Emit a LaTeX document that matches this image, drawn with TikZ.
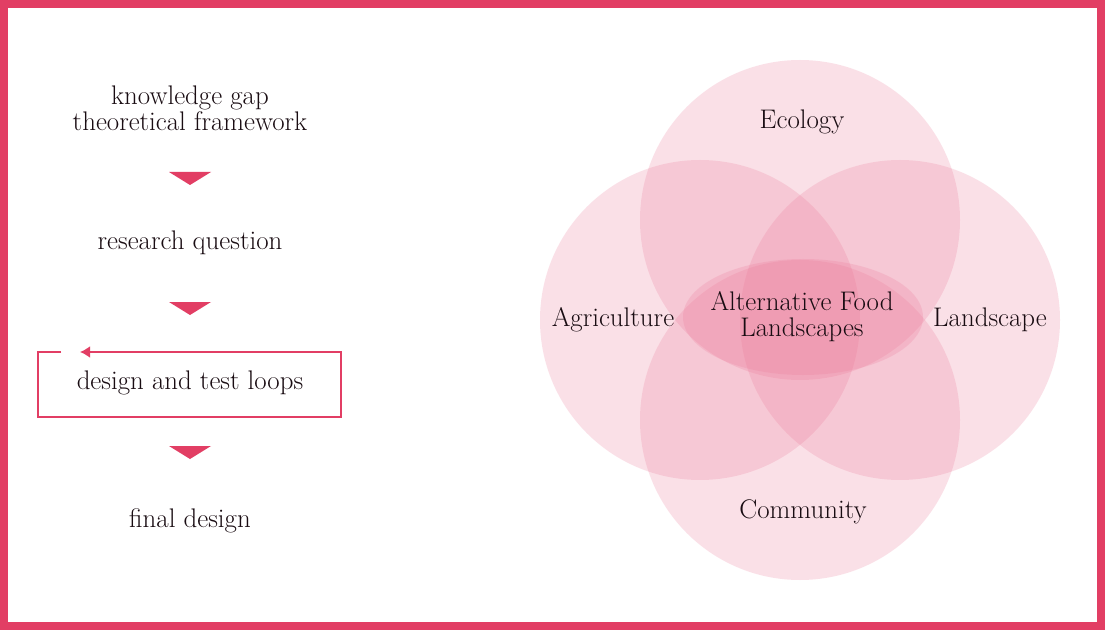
\documentclass[tikz,border=0pt]{standalone}
\usepackage{xcolor}
\usepackage{tikz}
\usetikzlibrary{arrows.meta}
\definecolor{framered}{RGB}{226,62,100}
\definecolor{venpink}{RGB}{236,118,150}
\definecolor{inkdark}{RGB}{25,12,18}

\begin{document}
\begin{tikzpicture}[x=1bp, y=-1bp]
    \tikzstyle{label} = [align=center, text=inkdark, font=\fontsize{27}{26}\selectfont, inner sep=0pt]
    \tikzstyle{petal} = [fill=venpink, fill opacity=0.22, draw=none]
    \tikzstyle{marker} = [fill=framered]

    \useasboundingbox (0,0) rectangle (1105,630);
    \fill[white] (0,0) rectangle (1105,630);
    \draw[framered, line width=8bp] (4,4) rectangle (1101,626);

    % Process steps
    \node [label] (gap) at (190,108) {knowledge gap\\theoretical framework};
    \node [label] (question) at (190,243) {research question};
    \node [label] (loops) at (190,383) {design and test loops};
    \node [label] (final) at (190,521) {final design};

    % Markers between the steps
    \foreach \y in {178,308,452}
        \fill[marker] (169,\y-6) -- (211,\y-6) -- (190,\y+7) -- cycle;

    % Loop round the design step
    \coordinate (loop_start) at (61,352);
    \coordinate (loop_end) at (80,352);
    \draw [framered, line width=2.2bp, -{Latex[length=10bp,width=12bp]}]
        (loop_start) -- (38,352) -- (38,417) -- (341,417) -- (341,352) -- (loop_end);

    % Venn circles
    \fill [petal] (800,220) circle (160);
    \fill [petal] (700,320) circle (160);
    \fill [petal] (900,320) circle (160);
    \fill [petal] (800,420) circle (160);
    \fill [petal] (803,317) ellipse (120 and 58);

    % Venn labels
    \node [label] (ecology) at (802,122) {Ecology};
    \node [label] (agriculture) at (613,320) {Agriculture};
    \node [label] (landscape) at (990,320) {Landscape};
    \node [label] (community) at (803,512) {Community};
    \node [label] (afl) at (802,317) {Alternative Food\\Landscapes};
\end{tikzpicture}
\end{document}
